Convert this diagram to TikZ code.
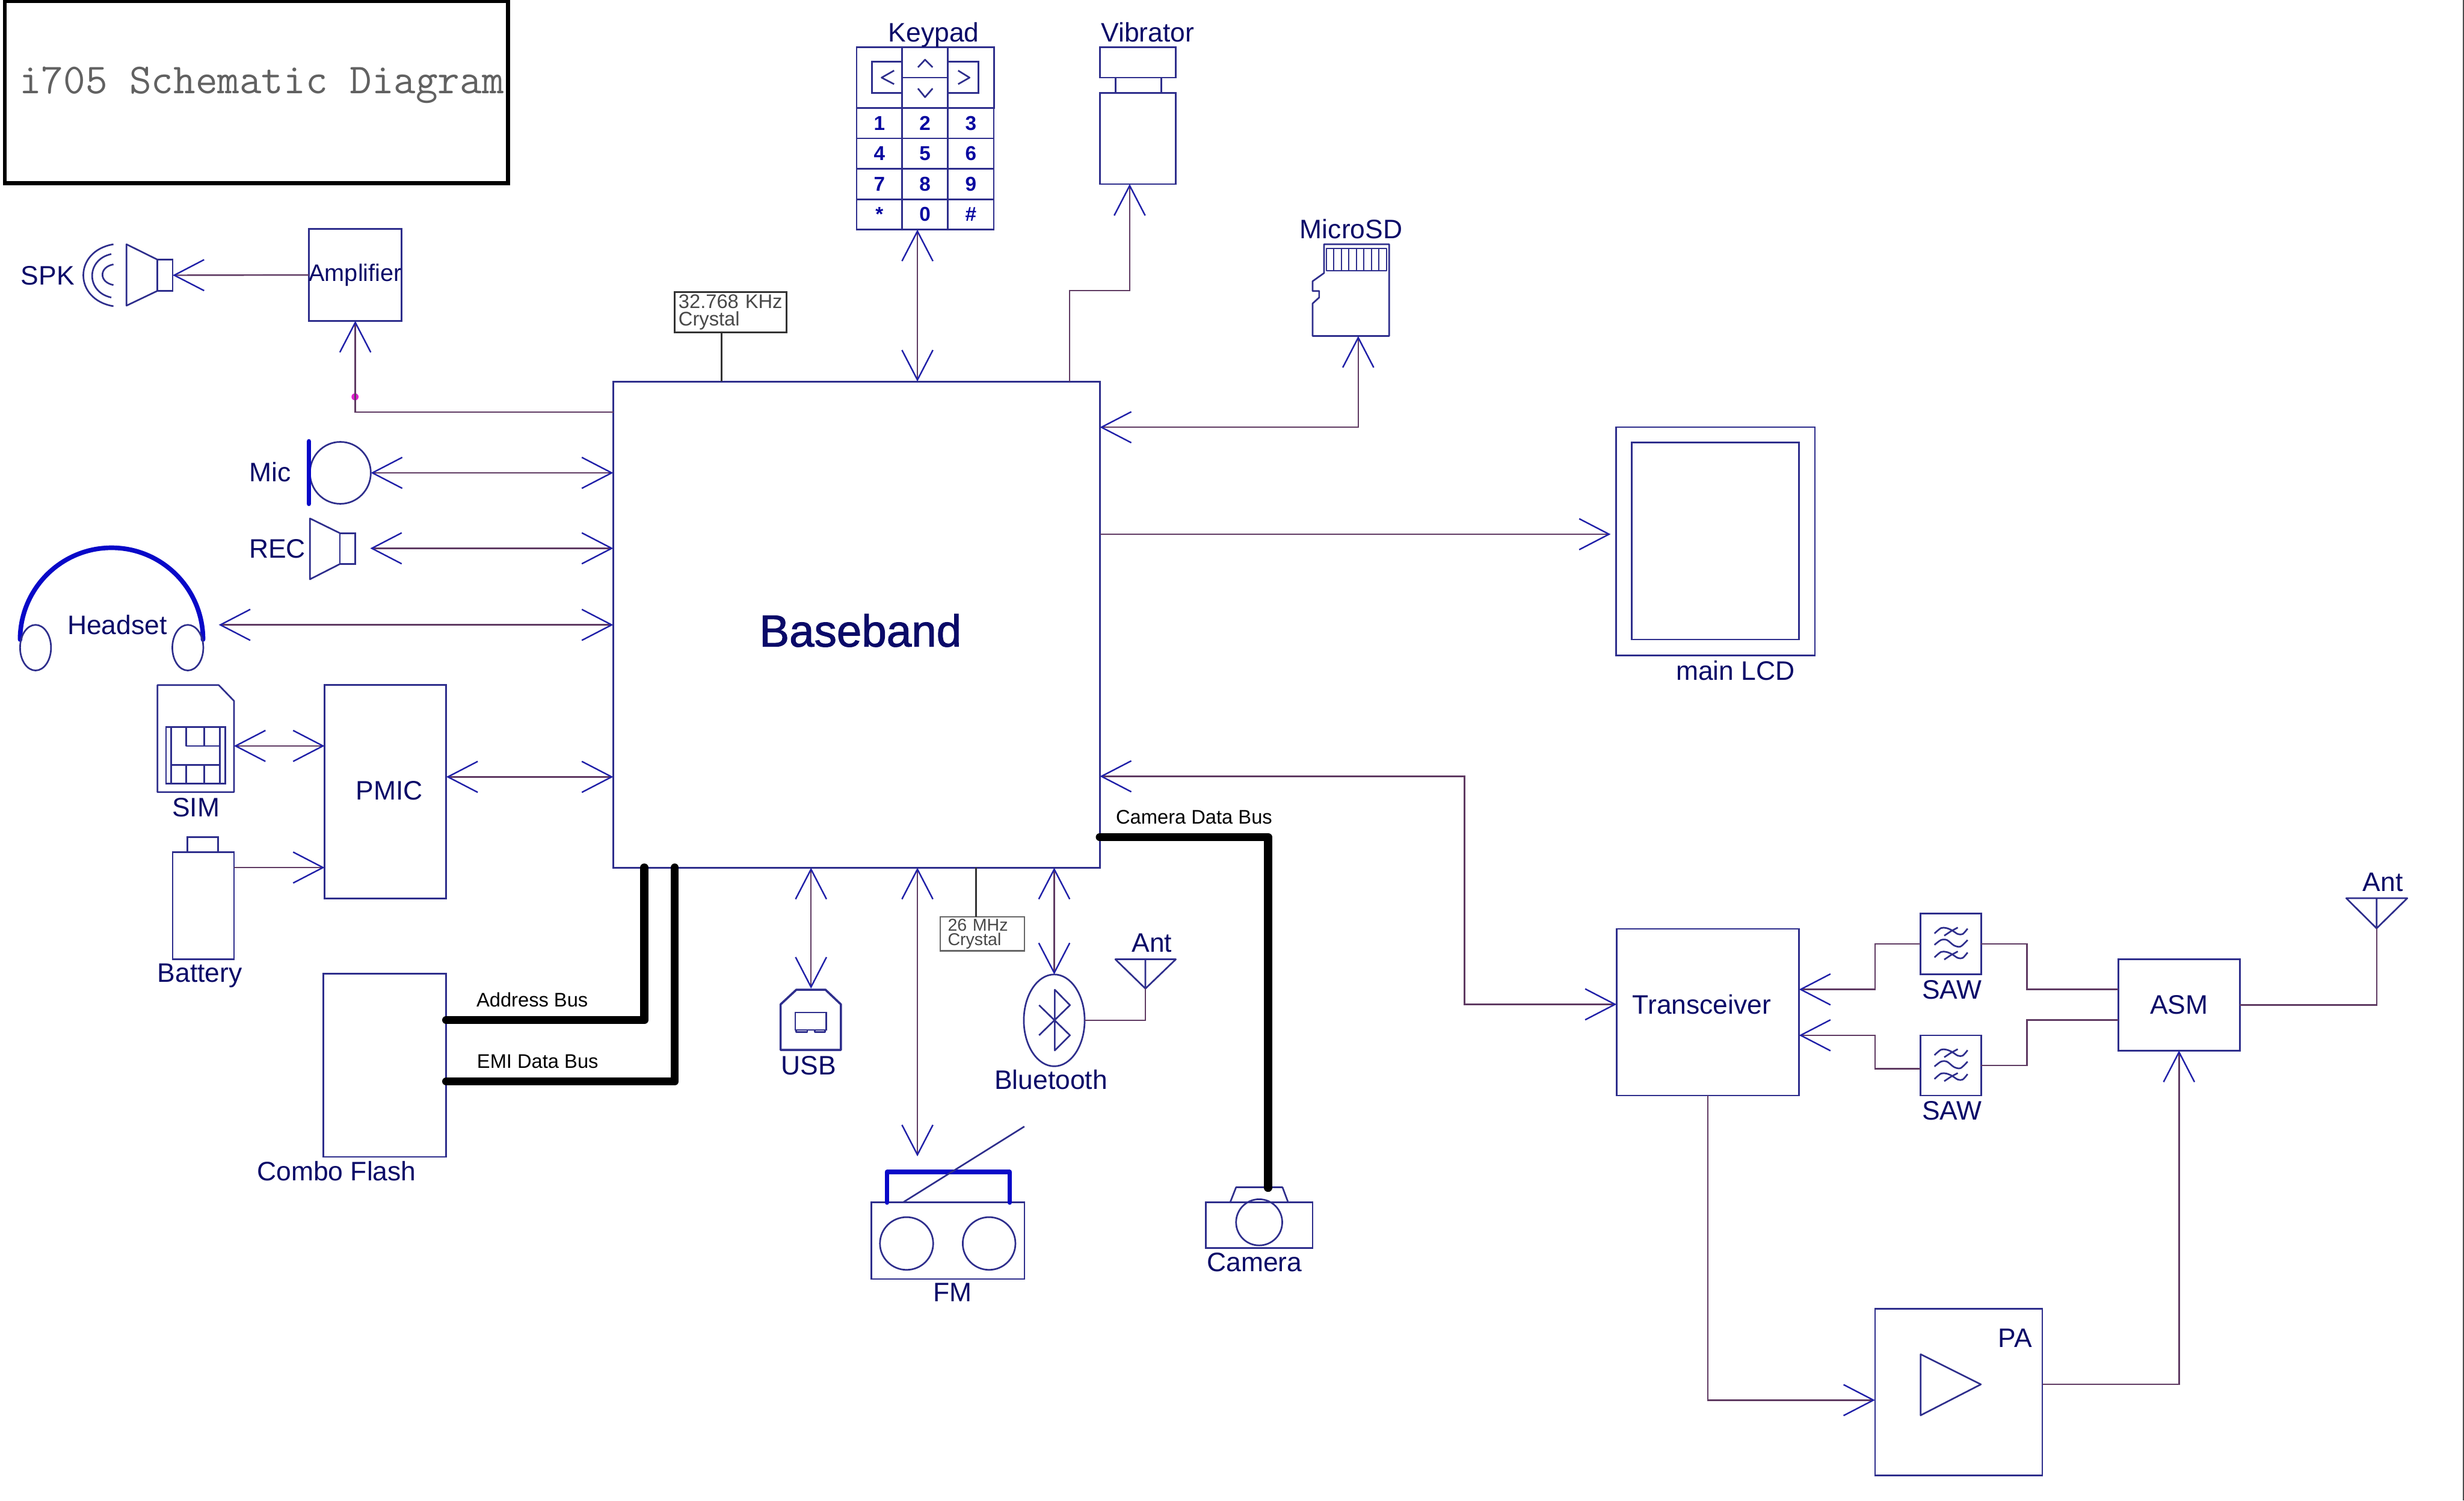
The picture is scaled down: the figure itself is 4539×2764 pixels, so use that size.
\documentclass[tikz,border=0pt]{standalone}
\usepackage{fontspec}
\setmainfont{Liberation Sans}
\newfontfamily\heavysans[FakeBold=1.5]{Liberation Sans}
\usetikzlibrary{arrows.meta,shapes.geometric}
\definecolor{boxblue}{HTML}{2E2E8C}
\definecolor{wirered}{HTML}{5F3A62}
\definecolor{tipblue}{HTML}{2020A8}
\definecolor{inknavy}{HTML}{0A0A68}
\definecolor{deepblue}{HTML}{0808C8}
\definecolor{keyblue}{HTML}{0808A0}
\definecolor{xtalgrey}{HTML}{484848}
\definecolor{dotpink}{HTML}{E020D0}
\tikzset{
    >={Straight Barb[length=.55cm,width=.57cm,color=tipblue]},
    chip/.style={draw=boxblue,line width=.03cm,inner sep=0pt,outer sep=0pt,minimum width=#1},
    tall/.style={minimum height=#1},
    oval/.style={chip=#1,ellipse},
    outline/.style={draw=boxblue,line width=.03cm,line join=round},
    wire/.style={color=wirered,line width=.027cm},
    xtalwire/.style={color=black!80,line width=.027cm},
    thickblue/.style={draw=deepblue,line width=.085cm,line cap=round,line join=round},
    busline/.style={draw=black,line width=.15cm,line cap=round,line join=round},
    lbl/.style={text=inknavy,font=\fontsize{14}{16}\selectfont,inner sep=0pt,text height=10pt,text depth=0pt},
    buslbl/.style={text=black,font=\fontsize{10.3}{12}\selectfont,inner sep=0pt,text height=7.4pt,text depth=0pt},
    keycell/.style={chip=.84cm,tall=.56cm,text=keyblue,font=\fontsize{10.5}{12}\selectfont\bfseries},
    sawsym/.pic={
        \draw[outline] plot[smooth] coordinates {(-30,-19) (-18,-29) (-8,-29) (2,-25) (13,-18) (22,-18) (31,-28)};
        \draw[outline] (-12,-15) -- (0,-23) -- (13,-30);
        \draw[outline] plot[smooth] coordinates {(-30,2) (-18,-7) (-7,-7) (6,3) (18,5) (31,-7)};
        \draw[outline] plot[smooth] coordinates {(-30,25) (-18,15) (-8,15) (2,19) (13,26) (22,26) (31,16)};
        \draw[outline] (-12,29) -- (0,21) -- (13,14);
    },
}
\begin{document}
\begin{tikzpicture}[x=.01cm,y=-.01cm]
    \useasboundingbox (0,0) rectangle (4539,2764);

    \node (titlebox) [chip=9.26cm,tall=3.35cm,draw=black,line width=.07cm] at (472.5,170) {};
    \node (titletext) [anchor=base,inner sep=0pt,text=black!62,font=\fontsize{22.4}{24}\selectfont\ttfamily] at (482,172) {i705 Schematic Diagram};
    \draw[black!70,line width=.025cm] (4538,0) -- (4538,2764);

    \node (bb) [chip=8.96cm,tall=8.95cm] at (1578,1150.5) {};
    \node (bblabel) [lbl,font=\fontsize{23.5}{28}\selectfont\heavysans,text height=17pt] at (1585,1161) {Baseband};

    \node (amp) [chip=1.69cm,tall=1.69cm,text=inknavy,font=\fontsize{12.5}{14}\selectfont] at (654.5,506.5) {Amplifier};
    \node (spk) [chip=.28cm,tall=.575cm] at (304,507) {};
    \draw[outline] (spk.north west) -- (233,450) -- (233,563) -- (spk.south west);
    \draw[outline] (209,450) .. controls (135,462) and (135,552) .. (209,564);
    \draw[outline] (205,468) .. controls (158,478) and (158,538) .. (205,548);
    \draw[outline] (209,487) .. controls (182,492) and (182,520) .. (209,525);
    \node (spklabel) [lbl] at (88,507) {SPK};
    \node (ampdot) [circle,fill=dotpink,inner sep=0pt,minimum size=.13cm] at (654,731) {};

    \node (mic) [oval=1.12cm,tall=1.14cm] at (627,871) {};
    \draw[thickblue] (569,813) -- (569,928);
    \node (miclabel) [lbl] at (498,870) {Mic};
    \node (rec) [chip=.28cm,tall=.57cm] at (640,1010.5) {};
    \draw[outline] (rec.north west) -- (571,955) -- (571,1067) -- (rec.south west);
    \node (reclabel) [lbl] at (511,1010) {REC};
    \coordinate (recport) at (682,1010);

    \draw[thickblue] (37,1178) arc[start angle=180,end angle=360,x radius=168.5,y radius=169];
    \node (earl) [oval=.57cm,tall=.84cm] at (65.5,1193) {};
    \node (earr) [oval=.57cm,tall=.84cm] at (346,1193) {};
    \node (hslabel) [lbl] at (216,1151) {Headset};
    \coordinate (hsport) at (403,1151);

    \draw[outline] (290,1262) -- (403,1262) -- (431,1291) -- (431,1459) -- (290,1459) -- cycle;
    \node (simchip) [chip=1.09cm,tall=1.04cm] at (360.5,1391) {};
    \draw[outline] (315.5,1339) -- (315.5,1443) (405,1339) -- (405,1443);
    \draw[outline] (343,1339) -- (343,1374) -- (405,1374) (376,1339) -- (376,1374);
    \draw[outline] (315.5,1409) -- (405,1409) (343,1409) -- (343,1443) (376,1409) -- (376,1443);
    \node (simlabel) [lbl] at (361,1487) {SIM};
    \coordinate (simport) at (431,1374);

    \node (pmic) [chip=2.24cm,tall=3.93cm] at (710,1458.5) {};
    \node (pmiclabel) [lbl] at (717,1456) {PMIC};
    \node (batt) [chip=1.13cm,tall=1.97cm] at (374.5,1668.5) {};
    \node (battcap) [chip=.565cm,tall=.28cm] at (373.7,1556) {};
    \node (battlabel) [lbl] at (368,1791) {Battery};
    \coordinate (battport) at (431,1598);

    \node (flash) [chip=2.26cm,tall=3.37cm] at (709,1962.5) {};
    \node (flashlabel) [lbl] at (620,2157) {Combo Flash};
    \node (addrlabel) [buslbl,anchor=base west] at (877,1855) {Address Bus};
    \node (emilabel) [buslbl,anchor=base west] at (878,1967) {EMI Data Bus};
    \node (camlabelbus) [buslbl,anchor=base west] at (2055,1518) {Camera Data Bus};

    \node (xtala) [chip=2.06cm,tall=.74cm,draw=black!80,text=xtalgrey,align=left,text width=1.92cm,font=\fontsize{10.3}{9.1}\selectfont] at (1346,575) {32.768 KHz\\Crystal};
    \coordinate (xtalaport) at (1329,612);
    \node (xtalb) [chip=1.55cm,tall=.625cm,draw=black!60,text=xtalgrey,align=left,text width=1.27cm,font=\fontsize{9}{7.5}\selectfont] at (1809.5,1720) {26 MHz\\Crystal};
    \coordinate (xtalbport) at (1798,1689);

    \node (pad) [chip=2.53cm,tall=1.12cm] at (1704.5,143) {};
    \node (padl) [chip=.56cm,tall=.57cm] at (1634,142.5) {};
    \node (padr) [chip=.56cm,tall=.57cm] at (1774,142.5) {};
    \node (padu) [chip=.84cm,tall=.56cm,fill=white] at (1704,115) {};
    \node (padd) [chip=.84cm,tall=.56cm,fill=white] at (1704,171) {};
    \draw[outline] (1647,130) -- (1624,143) -- (1647,155);
    \draw[outline] (1765,130) -- (1786,143) -- (1765,155);
    \draw[outline] (1691,124) -- (1704,110) -- (1718,124);
    \draw[outline] (1691,163) -- (1704,179) -- (1718,163);
    \foreach \keytext/\x/\y [count=\i] in {1/1620/227,2/1704/227,3/1788.5/227,4/1620/283,5/1704/283,6/1788.5/283,7/1620/339,8/1704/339,9/1788.5/339,*/1620/395,0/1704/395,\#/1788.5/395}
        \node (key\i) [keycell] at (\x,\y) {\keytext};
    \node (padlabel) [lbl] at (1720,59) {Keypad};
    \coordinate (padport) at (1690,423);

    \node (vibtop) [chip=1.40cm,tall=.56cm] at (2096,115) {};
    \node (vibneck) [chip=.84cm,tall=.28cm] at (2097,157) {};
    \node (vib) [chip=1.40cm,tall=1.68cm] at (2096,255) {};
    \node (viblabel) [lbl] at (2114,59) {Vibrator};
    \coordinate (vibport) at (2081,339);
    \coordinate (bbvib) at (1970,703);

    \draw[outline] (2439,450) -- (2559,450) -- (2559,619) -- (2418,619) -- (2418,559) -- (2430,548) -- (2430,536) -- (2418,536) -- (2418,518) -- (2439,503) -- cycle;
    \foreach \i in {0,...,7}
        \draw[outline,line width=.022cm] (2443+\i*13.9,458) rectangle (2456.9+\i*13.9,499);
    \node (sdlabel) [lbl] at (2489,422) {MicroSD};
    \coordinate (sdport) at (2502,619);
    \coordinate (bbsd) at (2026,787);

    \node (lcd) [chip=3.66cm,tall=4.2cm] at (3160,997) {};
    \node (lcdinner) [chip=3.08cm,tall=3.63cm] at (3160,996.5) {};
    \node (lcdlabel) [lbl] at (3197,1235) {main LCD};
    \coordinate (lcdport) at (2967,984);

    \draw[outline,line width=.04cm] (1438,1934) -- (1438,1850) -- (1467,1823) -- (1520.5,1823) -- (1549,1850) -- (1549,1934) -- cycle;
    \node (usbslot) [chip=.57cm,tall=.32cm] at (1493.5,1881) {};
    \draw[outline] (1467,1897) rectangle (1487,1901) (1501,1897) rectangle (1520,1901);
    \node (usblabel) [lbl] at (1490,1962) {USB};
    \coordinate (usbport) at (1494,1821);

    \node (fm) [chip=2.82cm,tall=1.41cm] at (1746,2285.5) {};
    \draw[thickblue] (1634,2215) -- (1634,2159) -- (1860,2159) -- (1860,2215);
    \draw[outline] (1663,2215) -- (1887,2075);
    \node (fmspl) [oval=.98cm,tall=.97cm] at (1670,2290.5) {};
    \node (fmspr) [oval=.97cm,tall=.97cm] at (1822,2290.5) {};
    \node (fmlabel) [lbl] at (1755,2380) {FM};
    \coordinate (fmport) at (1690,2130);

    \node (bt) [oval=1.12cm,tall=1.69cm] at (1942,1879.5) {};
    \draw[outline] (1914,1851.5) -- (1971,1907) -- (1943,1935) -- (1943,1823) -- (1971,1851.5) -- (1914,1907);
    \node (btlabel) [lbl] at (1936,1989) {Bluetooth};
    \draw[outline] (2054.5,1767) -- (2166,1767) -- (2110,1821) -- cycle (2110,1767) -- (2110,1821);
    \node (antlabela) [lbl] at (2122,1736) {Ant};
    \coordinate (antbt) at (2110,1821);

    \node (cam) [chip=1.97cm,tall=.84cm] at (2319.5,2257) {};
    \draw[outline] (2266,2215) -- (2277,2187) -- (2362.5,2187) -- (2373,2215);
    \node (camlens) [oval=.85cm,tall=.85cm] at (2319.5,2251.5) {};
    \node (camlabel) [lbl] at (2311,2325) {Camera};
    \coordinate (camport) at (2336,2188);
    \coordinate (bbcam) at (2026,1542);

    \coordinate (addrtop) at (1187,1598);
    \coordinate (addrend) at (822,1879);
    \coordinate (emitop) at (1243,1598);
    \coordinate (emiend) at (822,1992);

    \node (trx) [chip=3.36cm,tall=3.07cm] at (3146,1864.5) {};
    \node (trxlabel) [lbl] at (3135,1850) {Transceiver};
    \coordinate (trxport) at (2978,1850);
    \coordinate (bbtrx) at (2026,1430);
    \coordinate (trxa) at (3314,1822.5);
    \coordinate (trxb) at (3314,1907);
    \coordinate (lfold) at (3454,1850);
    \coordinate (rfold) at (3734,1850);

    \node (saw1) [chip=1.12cm,tall=1.12cm] at (3593.5,1738.5) {};
    \pic at (saw1) {sawsym};
    \node (sawlabela) [lbl] at (3596,1822.5) {SAW};
    \node (saw2) [chip=1.12cm,tall=1.11cm] at (3593.5,1962.5) {};
    \pic at (saw2) {sawsym};
    \node (sawlabelb) [lbl] at (3596,2045.5) {SAW};

    \node (asm) [chip=2.24cm,tall=1.68cm,text=inknavy,font=\fontsize{14}{16}\selectfont] at (4014,1851) {ASM};
    \coordinate (asma) at (3902,1822.5);
    \coordinate (asmb) at (3902,1879);
    \draw[outline] (4322,1654.5) -- (4434.5,1654.5) -- (4378,1710) -- cycle (4378,1654.5) -- (4378,1710);
    \node (antlabelb) [lbl] at (4389.5,1624) {Ant};
    \coordinate (antrf) at (4378,1710);

    \node (pa) [chip=3.08cm,tall=3.07cm] at (3608,2564.5) {};
    \draw[outline] (3538,2494.5) -- (3649,2550) -- (3538,2607) -- cycle;
    \node (palabel) [lbl] at (3712,2464.5) {PA};
    \coordinate (paport) at (3454,2579);
    \coordinate (paout) at (3762,2550);

    \path[wire,->] (amp.west) edge (spk.east);
    \coordinate (bbamp) at (1130,759);
    \draw[wire,->] (bbamp) -| (amp.south);
    \path[wire,<->] (mic.east) edge (mic.east -| bb.west);
    \path[wire,<->] (recport) edge (recport -| bb.west);
    \path[wire,<->] (hsport) edge (hsport -| bb.west);
    \path[wire,<->] (simport) edge (simport -| pmic.west);
    \path[wire,->] (battport) edge (battport -| pmic.west);
    \path[wire,<->] (pmic.east |- 0,1431) edge (bb.west |- 0,1431);
    \path[wire,<->] (padport) edge (padport |- bb.north);
    \draw[wire,->] (bbvib) -- ++(0,-168) -| (vibport);
    \draw[wire,<->] (bbsd) -| (sdport);
    \path[wire,->] (lcdport -| bb.east) edge (lcdport);
    \path[wire,<->] (usbport |- bb.south) edge (usbport);
    \path[wire,<->] (fmport |- bb.south) edge (fmport);
    \path[wire,<->] (bt.north |- bb.south) edge (bt.north);
    \draw[wire] (bt.east) -| (antbt);
    \draw[wire,<->] (bbtrx) -- ++(672,0) |- (trxport);
    \draw[wire,->] (saw1.west) -| (lfold |- trxa) -- (trxa);
    \draw[wire,->] ([yshift=-.06cm]saw2.west) -| (lfold |- trxb) -- (trxb);
    \draw[wire] (saw1.east) -| (rfold |- asma) -- (asma);
    \draw[wire] (saw2.east) -| (rfold |- asmb) -- (asmb);
    \draw[wire] (asm.east) -| (antrf);
    \draw[wire,->] (trx.south) |- (paport);
    \draw[wire,->] (paout) -| (asm.south);

    \path[xtalwire] (xtalaport) edge (xtalaport |- bb.north);
    \path[xtalwire] (xtalbport) edge (xtalbport |- bb.south);

    \draw[busline] (addrtop) |- (addrend);
    \draw[busline] (emitop) |- (emiend);
    \draw[busline] (bbcam) -| (camport);
\end{tikzpicture}
\end{document}
